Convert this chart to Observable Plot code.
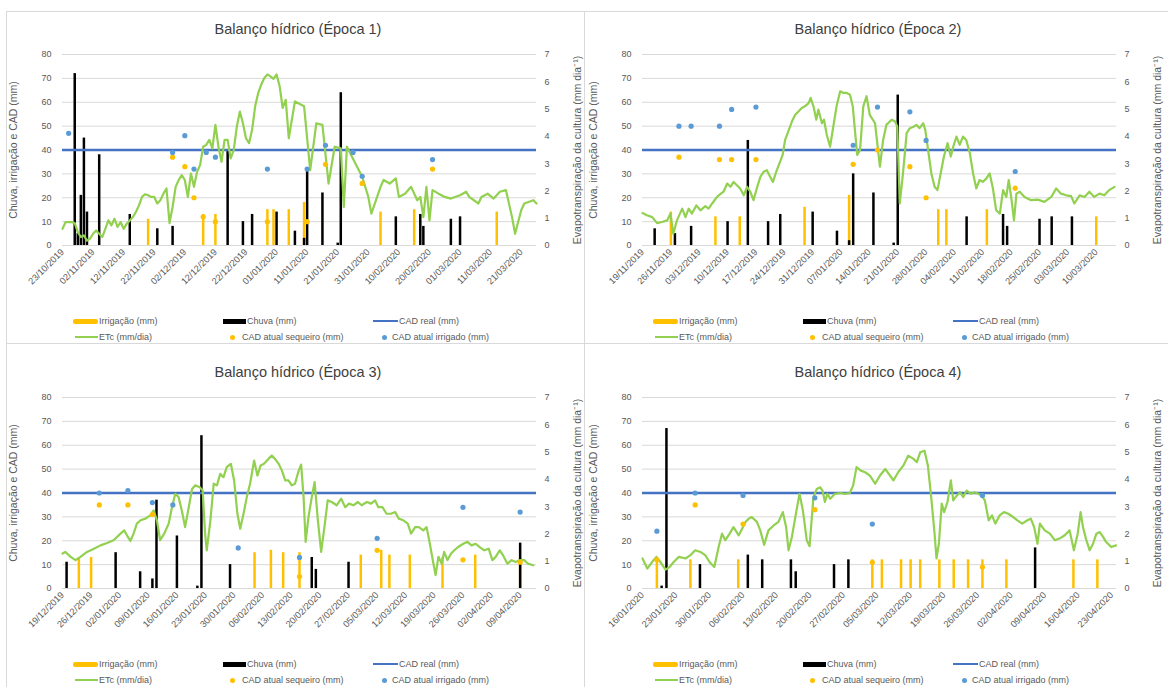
<!DOCTYPE html>
<html><head><meta charset="utf-8">
<script src="https://cdn.jsdelivr.net/npm/d3@7"></script>
<script src="https://cdn.jsdelivr.net/npm/@observablehq/plot@0.6"></script>
<style>
body{margin:0;background:#fff;font-family:"Liberation Sans",Arial,sans-serif;}
#root{position:relative;width:1168px;height:687px;overflow:hidden;background:#fff;}
.panel{position:absolute;width:584px;height:343px;}
.title{position:absolute;left:0;width:596px;top:21px;text-align:center;font-size:14.5px;color:#404040;}
.ytitle{position:absolute;top:150px;font-size:10.5px;color:#595959;white-space:nowrap;transform:translate(-50%,-50%) rotate(-90deg);}
.leg{position:absolute;font-size:9px;color:#595959;white-space:nowrap;line-height:10px;}
.sw{position:absolute;}
.hline{position:absolute;background:#d9d9d9;}
</style></head>
<body><div id="root"></div>
<script>
// ---------- data (day offsets from each panel's first date) ----------
const titles = ["Balanço hídrico (Época 1)","Balanço hídrico (Época 2)","Balanço hídrico (Época 3)","Balanço hídrico (Época 4)"];
const starts = ["23/10/2019","19/11/2019","19/12/2019","16/01/2020"];
const ends = ["26/03/2020","15/03/2020","13/04/2020","24/04/2020"];
const yTicks = [0,10,20,30,40,50,60,70,80];
const etcTicks = [0,1,2,3,4,5,6,7];
const cadReal = 40;

const ticks1 = ["23/10/2019","02/11/2019","12/11/2019","22/11/2019","02/12/2019","12/12/2019","22/12/2019","01/01/2020","11/01/2020","21/01/2020","31/01/2020","10/02/2020","20/02/2020","01/03/2020","11/03/2020","21/03/2020"];
const ticks2 = ["19/11/2019","26/11/2019","03/12/2019","10/12/2019","17/12/2019","24/12/2019","31/12/2019","07/01/2020","14/01/2020","21/01/2020","28/01/2020","04/02/2020","11/02/2020","18/02/2020","25/02/2020","03/03/2020","10/03/2020"];
const ticks3 = ["19/12/2019","26/12/2019","02/01/2020","09/01/2020","16/01/2020","23/01/2020","30/01/2020","06/02/2020","13/02/2020","20/02/2020","27/02/2020","05/03/2020","12/03/2020","19/03/2020","26/03/2020","02/04/2020","09/04/2020"];
const ticks4 = ["16/01/2020","23/01/2020","30/01/2020","06/02/2020","13/02/2020","20/02/2020","27/02/2020","05/03/2020","12/03/2020","19/03/2020","26/03/2020","02/04/2020","09/04/2020","16/04/2020","23/04/2020"];

// Chuva (mm)
const rain1 = [[4,72],[5,5],[6,21],[7,45],[8,14],[12,38],[22,13],[31,7],[36,8],[54,40],[59,10],[62,13],[70,14],[76,6],[79,3],[80,32],[85,22],[90,1],[91,64],[109,12],[117,13],[118,8],[127,11],[130,12]];
const rain2 = [[3,7],[8,5],[12,8],[21,10],[26,44],[31,10],[34,13],[42,14],[48,6],[51,2],[52,30],[57,22],[62,1],[63,63],[80,12],[89,13],[90,8],[98,11],[101,12],[106,12]];
const rain3 = [[1,11],[13,15],[19,7],[22,4],[23,37],[28,22],[33,1],[34,64],[41,10],[61,13],[62,8],[70,11],[112,19]];
const rain4 = [[4,1],[5,67],[12,10],[22,14],[25,12],[31,12],[32,7],[40,10],[43,12],[82,17]];

// Irrigação (mm)
const irr1 = [[28,11],[46,13],[50,13],[67,15],[69,15],[74,15],[79,18],[104,14],[115,15],[142,14]];
const irr2 = [[7,14],[18,12],[24,12],[40,16],[51,21],[73,15],[75,15],[85,15],[112,12]];
const irr3 = [[4,13],[7,13],[47,15],[51,16],[54,15],[58,15],[73,14],[78,16],[80,14],[85,14],[93,13],[101,14],[112,13]];
const irr4 = [[3,13],[10,12],[20,12],[48,12],[50,12],[54,12],[56,12],[58,12],[62,12],[65,12],[68,12],[71,12],[76,12],[90,12],[95,12]];

// CAD atual sequeiro (mm)
const seq1 = [[36,37],[40,33],[43,20],[46,12],[50,10],[67,10],[80,10],[86,34],[98,26],[121,32]];
const seq2 = [[9,37],[19,36],[22,36],[28,36],[52,34],[58,40],[66,33],[70,20],[92,24]];
const seq3 = [[9,35],[16,35],[22,31],[58,5],[77,16],[98,12],[112,11]];
const seq4 = [[3,12],[11,35],[21,27],[36,33],[48,11],[71,9]];

// CAD atual irrigado (mm)
const irg1 = [[2,47],[36,39],[40,46],[43,32],[47,39],[50,37],[67,32],[80,32],[86,42],[95,39],[98,29],[121,36]];
const irg2 = [[9,50],[12,50],[19,50],[22,57],[28,58],[52,42],[58,58],[66,56],[70,44],[92,31]];
const irg3 = [[9,40],[16,41],[22,36],[27,35],[43,17],[58,13],[77,21],[98,34],[112,32]];
const irg4 = [[3,24],[11,40],[21,39],[36,38],[48,27],[71,39]];

// ETc (mm/dia)
const etc1 = [[0,0.61],[1,0.86],[2,0.86],[3,0.86],[4,0.82],[5,0.49],[6,0.31],[7,0.37],[8,0.18],[9,0.25],[10,0.43],[11,0.55],[12,0.43],[13,0.31],[14,0.61],[15,0.92],[16,0.74],[17,0.98],[18,0.68],[19,0.86],[20,0.61],[21,0.80],[22,0.92],[23,1.04],[24,1.23],[25,1.47],[26,1.78],[27,1.88],[28,1.84],[29,1.78],[30,1.78],[31,1.54],[32,1.66],[33,1.90],[34,2.09],[35,0.82],[36,1.41],[37,2.15],[38,2.40],[39,2.58],[40,2.40],[41,1.78],[42,2.64],[43,2.15],[44,2.70],[45,2.95],[46,3.62],[47,3.69],[48,3.87],[49,3.56],[50,4.42],[51,3.62],[52,3.07],[53,3.87],[54,3.87],[55,3.19],[56,3.50],[57,4.36],[58,4.91],[59,4.48],[60,3.93],[61,3.75],[62,4.24],[63,5.10],[64,5.59],[65,5.90],[66,6.14],[67,6.27],[68,6.20],[69,6.11],[70,6.27],[71,5.84],[72,5.04],[73,5.34],[74,3.93],[76,5.28],[79,5.10],[81,2.76],[83,4.48],[85,4.42],[87,2.27],[89,3.62],[91,3.56],[92,1.41],[93,3.62],[98,2.52],[100,1.78],[101,1.17],[104,2.15],[105,2.40],[107,2.27],[109,2.46],[110,1.78],[112,1.90],[114,2.15],[116,1.66],[117,1.78],[118,1.04],[119,2.15],[120,0.92],[121,2.03],[123,1.90],[125,1.78],[127,1.72],[130,1.84],[132,1.97],[133,1.78],[136,1.54],[137,1.78],[139,1.90],[141,1.72],[143,1.97],[145,2.03],[147,1.04],[148,0.43],[150,1.29],[151,1.54],[154,1.66],[155,1.54]];
const etc2 = [[0,1.19],[1.1,1.11],[2.4,1.04],[3.6,0.82],[4.8,0.86],[6.1,0.92],[6.9,1.17],[7.6,0.43],[8.5,0.92],[9.8,1.35],[10.6,1.04],[11.4,1.35],[12.2,1.17],[13.3,1.47],[14.3,1.29],[15.5,1.44],[16.3,1.35],[17.2,1.54],[18.4,1.78],[19.2,1.88],[20,1.97],[20.9,2.27],[21.7,2.15],[22.5,2.33],[23.3,2.21],[24.1,2.09],[25,1.84],[25.8,2.15],[26.6,1.97],[27.4,1.66],[28.2,2.09],[29.1,2.52],[29.9,2.70],[30.7,2.76],[31.5,2.52],[32.2,2.33],[33,2.70],[33.8,3.01],[34.6,3.32],[35.2,3.87],[36,4.18],[36.9,4.55],[37.7,4.79],[38.5,4.91],[39.3,5.04],[40.1,5.10],[41,5.22],[41.5,5.41],[42.2,5.10],[42.9,4.61],[43.4,4.98],[44.3,4.48],[44.8,4.61],[45.5,4.05],[46.3,3.62],[47.1,4.36],[47.9,5.10],[48.8,5.65],[49.6,5.59],[50.4,5.59],[51.2,5.53],[51.9,5.10],[52.5,4.12],[53,3.32],[53.7,3.50],[54.5,5.10],[55.3,5.47],[56.1,4.79],[57.4,4.48],[58.6,2.89],[59.4,3.87],[60.2,4.42],[61.5,4.61],[62.3,4.55],[62.9,4.36],[63.5,1.54],[64.3,2.64],[65.2,4.12],[66,4.30],[66.8,4.34],[67.6,4.42],[68.4,4.30],[69.3,4.48],[69.8,4.24],[70.5,3.50],[71.3,2.64],[72.1,2.15],[72.8,2.03],[73.6,2.64],[74.4,3.26],[75.3,3.75],[76.1,3.26],[76.7,3.62],[77.5,3.99],[78.3,3.69],[79.1,3.99],[79.9,3.87],[80.8,3.38],[81.6,2.64],[82.4,2.09],[83.2,2.40],[84,2.33],[84.9,2.46],[85.7,2.64],[86.5,2.09],[87.3,1.29],[88.2,1.17],[89,2.03],[89.8,1.78],[90.4,2.40],[91,1.78],[91.7,0.92],[92.3,1.90],[93.1,1.97],[94.3,1.78],[95.9,1.66],[97.6,1.68],[99.2,1.60],[100.9,1.78],[102.1,2.09],[103.3,1.90],[104.6,1.84],[105.8,1.81],[106.6,1.54],[107.9,1.84],[109.1,1.78],[110.3,1.97],[111.5,1.78],[112.8,1.90],[114,1.84],[115.2,2.03],[116.5,2.15]];
const etc3 = [[0,1.28],[0.7,1.34],[2,1.16],[3.2,1.04],[4.4,1.16],[6,1.34],[7.7,1.46],[9.3,1.58],[10.9,1.67],[12.5,1.77],[14.2,2.01],[15.1,2.13],[16,1.89],[16.6,1.74],[17.4,2.01],[18.2,2.38],[19.1,2.50],[20.3,2.56],[21.5,2.68],[22.3,2.86],[23.1,2.50],[23.9,1.77],[24.9,2.01],[26,2.38],[26.8,2.98],[27.6,3.47],[28.4,3.35],[29.2,2.86],[30,2.25],[30.9,2.98],[31.7,3.65],[32.5,3.78],[33.6,3.71],[34.3,3.59],[34.9,2.01],[35.3,1.40],[36.2,2.50],[37,3.84],[37.8,3.78],[38.6,4.20],[39.4,4.08],[40.2,4.45],[41.2,4.57],[42,3.96],[42.8,2.74],[43.5,2.19],[44.3,2.74],[45.1,3.35],[45.9,3.84],[46.9,4.69],[47.7,4.14],[48.5,4.51],[49.3,4.57],[50.4,4.75],[51.2,4.87],[52,4.75],[52.9,4.57],[53.7,4.32],[54.5,3.96],[55.3,3.96],[56.1,3.78],[56.9,3.84],[57.8,4.32],[58.4,4.54],[59,3.35],[59.5,1.71],[60.2,2.62],[61,3.35],[61.7,3.90],[62.5,2.50],[63.3,1.34],[64.1,2.25],[64.9,3.23],[65.9,3.17],[67.1,3.05],[68.2,3.29],[69.2,2.98],[70.1,3.11],[71.2,3.05],[72.3,3.17],[73.2,3.05],[74.5,3.17],[75.5,3.11],[76.5,3.23],[77.3,2.98],[78.3,2.98],[79.3,2.74],[80.4,2.74],[81.4,2.80],[82.3,2.56],[83.4,2.50],[84.5,2.38],[85.3,2.01],[86.3,2.25],[87.2,2.25],[88.3,2.13],[89.1,2.25],[89.9,1.64],[90.7,0.97],[91.3,0.49],[92,1.16],[92.8,0.91],[93.4,1.34],[94.2,1.04],[95.1,1.28],[95.9,1.40],[96.8,1.52],[98.1,1.64],[99.1,1.71],[100.1,1.58],[101.1,1.64],[102.1,1.52],[103.2,1.40],[104.3,1.46],[105.2,1.04],[106,1.16],[107,1.40],[107.8,1.22],[108.9,0.91],[109.9,1.04],[110.9,0.97],[111.9,1.04],[113,1.04],[113.9,0.91],[115.2,0.85]];
const etc4 = [[0,1.10],[1,0.73],[2,0.97],[2.9,1.16],[3.75,0.97],[4.8,0.69],[5.7,0.79],[6.5,0.97],[7.6,1.16],[9,1.10],[10,1.22],[11,1.40],[12.1,1.34],[13.1,1.22],[14,0.97],[15,0.79],[15.9,1.52],[16.6,2.01],[17.3,1.77],[18.2,2.01],[19,2.25],[20.1,1.95],[20.8,2.19],[21.5,2.44],[22.2,2.56],[22.8,2.62],[23.9,2.44],[24.6,2.13],[25.4,1.60],[26.3,2.13],[27.4,2.31],[28.4,2.44],[29.3,2.80],[30,2.25],[30.5,1.40],[31.2,1.89],[32.1,2.80],[32.8,3.47],[33.5,2.86],[34.3,1.77],[34.9,1.55],[35.7,3.35],[36.4,3.65],[37.1,3.71],[37.6,3.59],[38.1,3.17],[38.6,3.47],[39.2,3.29],[40.2,3.47],[41.3,3.50],[42.3,3.47],[43.3,3.50],[44,3.78],[44.7,4.45],[45.6,4.32],[46.5,4.26],[47.5,4.14],[48.6,3.84],[49.6,4.14],[50.7,4.38],[51.7,4.14],[52.4,3.96],[53.4,4.26],[54.5,4.51],[55.5,4.87],[56.6,4.75],[57.3,4.63],[58,4.99],[58.9,5.05],[59.6,4.51],[60.3,3.35],[61,2.01],[61.4,1.10],[61.9,1.64],[62.5,3.11],[63,2.80],[63.7,3.17],[64.4,3.96],[64.9,3.23],[65.4,3.35],[66.3,3.53],[67,3.35],[67.7,3.59],[68.6,3.47],[69.4,3.53],[70.1,3.47],[70.8,3.41],[71.5,3.23],[72.3,2.50],[73,2.68],[73.7,2.38],[74.6,2.68],[75.5,2.80],[76.4,2.74],[77.4,2.62],[78.3,2.50],[79.3,2.38],[80.4,2.50],[81.1,2.56],[81.8,2.25],[82.5,1.64],[83,2.38],[84,2.13],[85.1,2.01],[86.1,1.77],[87.1,1.83],[88.2,1.95],[89.2,2.13],[90.1,1.40],[90.9,2.01],[91.5,2.80],[92,2.25],[92.7,1.77],[93.4,1.40],[94.1,1.64],[94.8,2.01],[95.5,2.07],[96.2,1.89],[96.8,1.71],[97.9,1.52],[98.9,1.58]];

// ---------- drawing ----------
const FONT = '"Liberation Sans", Arial, sans-serif';
const parse = d3.utcParse("%d/%m/%Y");
const fmt = d3.utcFormat("%d/%m/%Y");
const DAY = 864e5;
const K = 80 / 7; // ETc (0–7) drawn against the 0–80 scale
const C = {irr:"#FFC000", rain:"#000000", cad:"#4472C4", etc:"#92D050", seq:"#FFC000", irg:"#5B9BD5"};

const panels = [
  {left:0, top:0, ticks:ticks1, rain:rain1, irr:irr1, seq:seq1, irg:irg1, etc:etc1},
  {left:580, top:0, ticks:ticks2, rain:rain2, irr:irr2, seq:seq2, irg:irg2, etc:etc2},
  {left:0, top:343, ticks:ticks3, rain:rain3, irr:irr3, seq:seq3, irg:irg3, etc:etc3},
  {left:580, top:343, ticks:ticks4, rain:rain4, irr:irr4, seq:seq4, irg:irg4, etc:etc4}
];

const root = document.getElementById("root");
function div(parent, cls, css, text) {
  const d = document.createElement("div");
  if (cls) d.className = cls;
  Object.assign(d.style, css || {});
  if (text != null) d.textContent = text;
  parent.appendChild(d);
  return d;
}

panels.forEach((p, i) => {
  const s = parse(starts[i]), e = parse(ends[i]);
  const at = d => new Date(+s + d * DAY);
  const pts = arr => arr.map(([d, v]) => ({x: at(d), y: v}));
  const etcPts = p.etc.map(([d, v]) => ({x: at(d), y: v * K}));

  const pan = div(root, "panel", {left: p.left + "px", top: p.top + "px"});
  div(pan, "title", {}, titles[i]);

  const chart = Plot.plot({
    width: 584, height: 262,
    marginTop: 10, marginBottom: 61, marginLeft: 62, marginRight: 48,
    style: {fontFamily: FONT, fontSize: "9px", color: "#595959", background: "transparent", overflow: "visible"},
    x: {type: "utc", domain: [s, e]},
    y: {domain: [0, 80]},
    marks: [
      Plot.gridY(yTicks, {stroke: "#d9d9d9", strokeOpacity: 1}),
      Plot.axisY(yTicks, {anchor: "left", tickSize: 0, tickPadding: 11, label: null, fontSize: 9}),
      Plot.axisY(etcTicks.map(t => t * K), {anchor: "right", tickSize: 0, tickPadding: 8, label: null, fontSize: 9, tickFormat: d => String(Math.round(d / K))}),
      Plot.axisX(p.ticks.map(parse), {tickRotate: -45, tickSize: 0, tickPadding: 5, label: null, tickFormat: fmt, fontSize: 9.2}),
      Plot.ruleX(pts(p.irr), {x: "x", y1: 0, y2: "y", stroke: C.irr, strokeWidth: 2.5}),
      Plot.ruleX(pts(p.rain), {x: "x", y1: 0, y2: "y", stroke: C.rain, strokeWidth: 2.5}),
      Plot.ruleY([cadReal], {stroke: C.cad, strokeWidth: 2.3}),
      Plot.line(etcPts, {x: "x", y: "y", stroke: C.etc, strokeWidth: 2.2, curve: "linear"}),
      Plot.dot(pts(p.seq), {x: "x", y: "y", r: 2.6, fill: C.seq}),
      Plot.dot(pts(p.irg), {x: "x", y: "y", r: 2.6, fill: C.irg})
    ]
  });
  chart.style.position = "absolute";
  chart.style.left = "0px";
  chart.style.top = "44px";
  pan.appendChild(chart);

  div(pan, "ytitle", {left: "13px"}, "Chuva, irrigação e CAD (mm)");
  div(pan, "ytitle", {left: "577px"}, "Evapotranspiração da cultura (mm dia⁻¹)");

  // legend
  const r1 = 321, r2 = 337;
  div(pan, "sw", {left: "73px", top: (r1 - 2.5) + "px", width: "25px", height: "5px", background: C.irr, borderRadius: "2px"});
  div(pan, "leg", {left: "99px", top: (r1 - 5) + "px"}, "Irrigação (mm)");
  div(pan, "sw", {left: "223px", top: (r1 - 2.5) + "px", width: "23px", height: "5px", background: C.rain});
  div(pan, "leg", {left: "247px", top: (r1 - 5) + "px"}, "Chuva (mm)");
  div(pan, "sw", {left: "373px", top: (r1 - 1) + "px", width: "25px", height: "2px", background: C.cad});
  div(pan, "leg", {left: "399px", top: (r1 - 5) + "px"}, "CAD real (mm)");
  div(pan, "sw", {left: "75px", top: (r2 - 1) + "px", width: "23px", height: "2px", background: C.etc});
  div(pan, "leg", {left: "99px", top: (r2 - 5) + "px"}, "ETc (mm/dia)");
  div(pan, "sw", {left: "230px", top: (r2 - 2.5) + "px", width: "5px", height: "5px", background: C.seq, borderRadius: "50%"});
  div(pan, "leg", {left: "242px", top: (r2 - 5) + "px"}, "CAD atual sequeiro (mm)");
  div(pan, "sw", {left: "382px", top: (r2 - 2.5) + "px", width: "5px", height: "5px", background: C.irg, borderRadius: "50%"});
  div(pan, "leg", {left: "392px", top: (r2 - 5) + "px"}, "CAD atual irrigado (mm)");
});

// panel dividers
div(root, "hline", {left: "6px", top: "11px", width: "1162px", height: "1px"});
div(root, "hline", {left: "6px", top: "11px", width: "1px", height: "676px"});
div(root, "hline", {left: "584px", top: "11px", width: "1px", height: "676px"});
div(root, "hline", {left: "6px", top: "343px", width: "1162px", height: "1px"});
</script>
</body></html>
